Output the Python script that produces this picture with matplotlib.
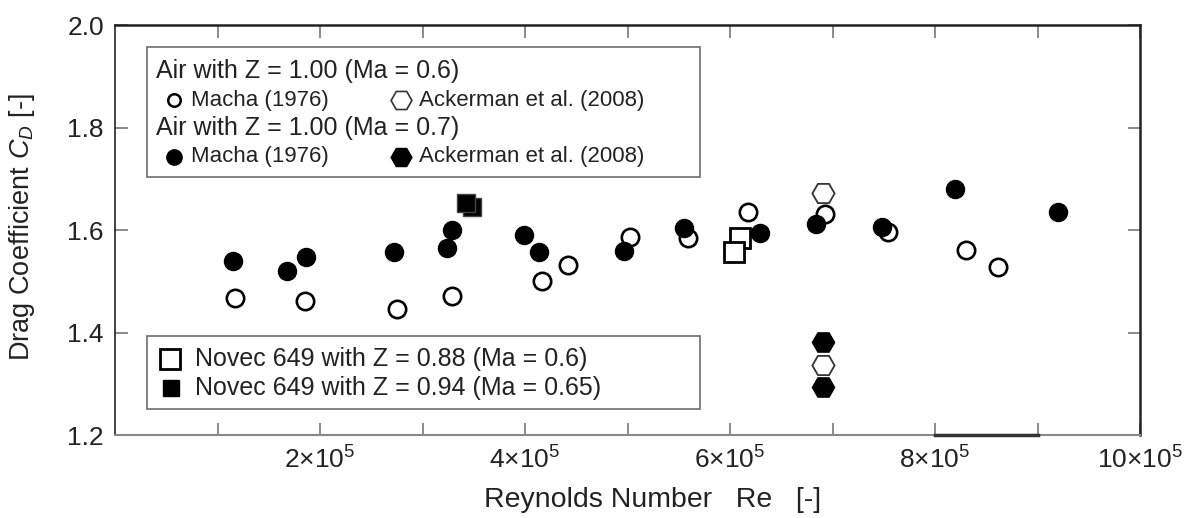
import matplotlib
matplotlib.use("Agg")
import matplotlib.pyplot as plt
from matplotlib.patches import Rectangle

plt.rcParams['font.family'] = ['Liberation Sans', 'DejaVu Sans']
plt.rcParams['mathtext.fontset'] = 'custom'
plt.rcParams['mathtext.rm'] = 'Liberation Sans'
plt.rcParams['mathtext.it'] = 'Liberation Sans:italic'

# data (Re in units of 1e5)
air06_macha_re = [1.17, 1.85, 2.75, 3.29, 4.17, 4.42, 5.02, 5.59, 6.18, 6.93, 7.54, 8.30, 8.61]
air06_macha_cd = [1.467, 1.462, 1.446, 1.471, 1.500, 1.532, 1.586, 1.584, 1.635, 1.631, 1.597, 1.561, 1.528]

air07_macha_re = [1.15, 1.68, 1.86, 2.72, 3.24, 3.29, 3.99, 4.14, 4.97, 5.55, 6.29, 6.84, 7.48, 8.19, 9.20]
air07_macha_cd = [1.540, 1.521, 1.547, 1.557, 1.565, 1.600, 1.591, 1.558, 1.560, 1.604, 1.595, 1.611, 1.606, 1.681, 1.636]

air06_acker_re = [6.91, 6.91]
air06_acker_cd = [1.673, 1.337]
air07_acker_re = [6.91, 6.91]
air07_acker_cd = [1.381, 1.293]

novec088_re = [6.10, 6.04]
novec088_cd = [1.585, 1.558]
novec094_re = [3.48, 3.42]
novec094_cd = [1.644, 1.653]

xtick_vals = [2, 4, 6, 8, 10]
xtick_labels = ['2×10$^{5}$', '4×10$^{5}$', '6×10$^{5}$', '8×10$^{5}$', '10×10$^{5}$']
ytick_vals = [1.2, 1.4, 1.6, 1.8, 2.0]

# thick piece on the bottom axis (as in the original figure)
bar_x = [8, 9]

sc = 1e5
fig = plt.figure(figsize=(11.93, 5.18), dpi=100)
ax = fig.add_axes([0.0964, 0.1602, 0.8592, 0.7915])

ax.plot([v * sc for v in air06_macha_re], air06_macha_cd, 'o', ms=12.5, mfc='white',
        mec='black', mew=1.9, ls='none', zorder=3)
ax.plot([v * sc for v in air07_macha_re], air07_macha_cd, 'o', ms=13, mfc='black',
        mec='black', ls='none', zorder=3)
ax.plot([v * sc for v in air06_acker_re], air06_acker_cd, 'H', ms=16, mfc='white',
        mec='#333333', mew=1.3, ls='none', zorder=4)
ax.plot([v * sc for v in air07_acker_re], air07_acker_cd, 'H', ms=16, mfc='black',
        mec='black', ls='none', zorder=4)
ax.plot([v * sc for v in novec088_re], novec088_cd, 's', ms=14, mfc='white',
        mec='black', mew=2, ls='none', zorder=5)
ax.plot([v * sc for v in novec094_re], novec094_cd, 's', ms=12.5, mfc='black',
        mec='#444444', mew=1, ls='none', zorder=5)

ax.plot([v * sc for v in bar_x], [1.2, 1.2], color='#333333', lw=2.5, clip_on=False, zorder=6)

ax.set_xlim(0, 10 * sc)
ax.set_ylim(1.2, 2.0)
ax.set_xticks([v * sc for v in xtick_vals])
ax.set_xticklabels(xtick_labels)
ax.set_xticks([v * sc for v in [1, 3, 5, 7, 9]], minor=True)
ax.set_yticks(ytick_vals)
ax.set_yticklabels(['%.1f' % v for v in ytick_vals])

ax.tick_params(which='both', direction='in', top=True, right=True, length=9,
               width=1.2, color='#777777', labelsize=19, labelcolor='#222222')
ax.tick_params(axis='x', pad=8)
ax.tick_params(axis='y', pad=8)

ax.spines['left'].set_color('#222222')
ax.spines['left'].set_linewidth(1.2)
ax.spines['bottom'].set_color('#888888')
ax.spines['bottom'].set_linewidth(1.5)
ax.spines['top'].set_color('#222222')
ax.spines['top'].set_linewidth(1.8)
ax.spines['right'].set_color('#222222')
ax.spines['right'].set_linewidth(1.8)

ax.set_xlabel('Reynolds Number   Re   [-]', fontsize=20.5, color='#222222')
ax.xaxis.set_label_coords(0.524, -0.128)
ax.set_ylabel('Drag Coefficient $C_D$ [-]', fontsize=19.5, color='#222222')
ax.yaxis.set_label_coords(-0.076, 0.507)

tr = ax.transAxes

# upper legend box
ax.add_patch(Rectangle((0.0312, 0.6293), 0.5395, 0.317, transform=tr, fill=True,
                       fc='white', ec='#777777', lw=1.3, zorder=7))
ax.text(0.040, 0.889, 'Air with Z = 1.00 (Ma = 0.6)', transform=tr, fontsize=18,
        va='center', ha='left', color='#222222', zorder=8)
ax.text(0.040, 0.748, 'Air with Z = 1.00 (Ma = 0.7)', transform=tr, fontsize=18,
        va='center', ha='left', color='#222222', zorder=8)
ax.plot([0.0575], [0.817], 'o', ms=9, mfc='white', mec='black', mew=1.8, transform=tr,
        clip_on=False, zorder=8)
ax.plot([0.0575], [0.679], 'o', ms=11, mfc='black', mec='black', transform=tr,
        clip_on=False, zorder=8)
ax.plot([0.279], [0.817], 'H', ms=15, mfc='white', mec='#333333', mew=1.2, transform=tr,
        clip_on=False, zorder=8)
ax.plot([0.279], [0.679], 'H', ms=15, mfc='black', mec='black', transform=tr,
        clip_on=False, zorder=8)
for yy in [0.817, 0.679]:
    ax.text(0.0745, yy, 'Macha (1976)', transform=tr, fontsize=16, va='center',
            ha='left', color='#222222', zorder=8)
    ax.text(0.297, yy, 'Ackerman et al. (2008)', transform=tr, fontsize=16, va='center',
            ha='left', color='#222222', zorder=8)

# lower legend box
ax.add_patch(Rectangle((0.0312, 0.0634), 0.5395, 0.1781, transform=tr, fill=True,
                       fc='white', ec='#777777', lw=1.3, zorder=7))
ax.plot([0.0537], [0.1846], 's', ms=14, mfc='white', mec='black', mew=2, transform=tr,
        clip_on=False, zorder=8)
ax.plot([0.0545], [0.1139], 's', ms=12, mfc='black', mec='black', transform=tr,
        clip_on=False, zorder=8)
ax.text(0.078, 0.1846, 'Novec 649 with Z = 0.88 (Ma = 0.6)', transform=tr, fontsize=18,
        va='center', ha='left', color='#222222', zorder=8)
ax.text(0.078, 0.1139, 'Novec 649 with Z = 0.94 (Ma = 0.65)', transform=tr, fontsize=18,
        va='center', ha='left', color='#222222', zorder=8)

fig.savefig('out.png', dpi=100)
